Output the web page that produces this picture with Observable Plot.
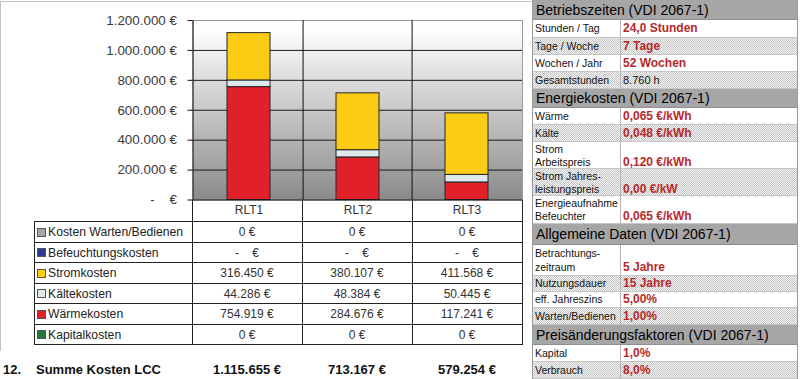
<!DOCTYPE html>
<html><head><meta charset="utf-8">
<script src="https://cdn.jsdelivr.net/npm/d3@7"></script>
<script src="https://cdn.jsdelivr.net/npm/@observablehq/plot@0.6"></script>
<style>
html,body{margin:0;padding:0;background:#fff;}
body{width:800px;height:379px;position:relative;overflow:hidden;font-family:"Liberation Sans",Arial,sans-serif;}
.abs{position:absolute;box-sizing:border-box;}
.dot{background:repeating-conic-gradient(#c4c4c4 0 25%, #f7f7f7 0 50%) 0 0/2px 2px;}
</style></head><body>
<div class="abs" style="left:0;top:1px;width:532px;height:350px;border-top:1px solid #c4c4c4;border-left:1px solid #c4c4c4;"></div>
<div id="chart" class="abs" style="left:0;top:0"></div>
<div id="table" class="abs" style="left:0;top:0;width:532px;height:379px"></div>
<div id="panel" class="abs" style="left:532px;top:0;width:266px;height:379px;border-left:1px solid #9a9a9a;border-right:1px solid #9a9a9a;"></div>
<script>
// ---------- data ----------
const categories = ["RLT1", "RLT2", "RLT3"];
const costTypes = ["Kosten Warten/Bedienen", "Befeuchtungskosten", "Stromkosten", "Kältekosten", "Wärmekosten", "Kapitalkosten"];
const wartenKosten = [0, 0, 0];
const befeuchtungsKosten = [0, 0, 0];
const stromKosten = [316450, 380107, 411568];
const kaelteKosten = [44286, 48384, 50445];
const waermeKosten = [754919, 284676, 117241];
const kapitalKosten = [0, 0, 0];
const yTicks = [0, 200000, 400000, 600000, 800000, 1000000, 1200000];
const accountingRows = ["Befeuchtungskosten"];
const summeLabel = "Summe Kosten LCC";
const summeNr = "12.";

const betriebTitle = "Betriebszeiten (VDI 2067-1)";
const betriebLabels = ["Stunden / Tag", "Tage / Woche", "Wochen / Jahr", "Gesamtstunden"];
const betriebValues = ["24,0 Stunden", "7 Tage", "52 Wochen", "8.760 h"];
const energieTitle = "Energiekosten (VDI 2067-1)";
const energieLabels = ["Wärme", "Kälte", "Strom\nArbeitspreis", "Strom Jahres-\nleistungspreis", "Energieaufnahme\nBefeuchter"];
const energieValues = ["0,065 €/kWh", "0,048 €/kWh", "0,120 €/kWh", "0,00 €/kW", "0,065 €/kWh"];
const allgTitle = "Allgemeine Daten (VDI 2067-1)";
const allgLabels = ["Betrachtungs-\nzeitraum", "Nutzungsdauer", "eff. Jahreszins", "Warten/Bedienen"];
const allgValues = ["5 Jahre", "15 Jahre", "5,00%", "1,00%"];
const preisTitle = "Preisänderungsfaktoren (VDI 2067-1)";
const preisLabels = ["Kapital", "Verbrauch"];
const preisValues = ["1,0%", "8,0%"];
const computedRows = ["Gesamtstunden"];

// ---------- styles ----------
const costColors = ["#a6a6a6", "#2b3c92", "#fccb14", "#dde9eb", "#e2202a", "#1f7a37"];
const valueRed = "#b8292b";

const costValues = [wartenKosten, befeuchtungsKosten, stromKosten, kaelteKosten, waermeKosten, kapitalKosten];
const totals = categories.map((c, j) => d3.sum(costValues, v => v[j]));

const de = d3.formatLocale({decimal: ",", thousands: ".", grouping: [3], currency: ["", " €"]});
const fmt = de.format(",.0f");
const NB = "\u00a0";
const euro = v => fmt(v) + NB + "€";
const dashEuro = "-" + NB + NB + NB + NB + "€";

// stacked long data, bottom to top
const stackData = [];
for (let k = costTypes.length - 1; k >= 0; k--) {
  categories.forEach((c, j) => stackData.push({rlt: c, cost: costTypes[k], value: costValues[k][j]}));
}

// ---------- chart ----------
const W = 530, H = 222, mL = 192.5, mR = 8, mT = 20, mB = 22.5;
const step = (W - mL - mR) / categories.length;
const chart = Plot.plot({
  width: W, height: H,
  marginLeft: mL, marginRight: mR, marginTop: mT, marginBottom: mB,
  style: {fontFamily: "Liberation Sans, Arial, sans-serif", fontSize: "13.4px", color: "#3a3a3a", background: "transparent", overflow: "visible"},
  x: {domain: categories, paddingInner: 0.608, paddingOuter: 0.304, axis: null, label: null},
  y: {domain: [0, 1200000], axis: null, label: null},
  color: {domain: costTypes, range: costColors},
  marks: [
    Plot.frame({fill: "url(#bgGrad)", stroke: "#9a9a9a"}),
    Plot.gridY(yTicks.slice(1, -1), {stroke: "#1a1a1a", strokeOpacity: 1}),
    Plot.ruleX(categories.slice(1), {dx: -step / 2, stroke: "#111"}),
    Plot.barY(stackData, {x: "rlt", y: "value", fill: "cost", stroke: "#262626", strokeWidth: 1}),
    Plot.frame({anchor: "left", stroke: "#111"}),
    Plot.ruleY([0], {stroke: "#111"}),
    Plot.axisY({ticks: yTicks, tickSize: 5, tickPadding: 11, stroke: "#111", label: null,
      tickFormat: d => d === 0 ? dashEuro : euro(d), fontSize: 13.4}),
    Plot.axisX({tickSize: 0, tickPadding: 5, fontSize: 12, color: "#333", label: null})
  ]
});
document.getElementById("chart").appendChild(chart);
const svg = d3.select(chart.tagName.toLowerCase() === "svg" ? chart : chart.querySelector("svg"));
const grad = svg.insert("defs", ":first-child").append("linearGradient")
  .attr("id", "bgGrad").attr("x1", 0).attr("y1", 0).attr("x2", 0).attr("y2", 1);
grad.append("stop").attr("offset", "0%").attr("stop-color", "#ffffff");
grad.append("stop").attr("offset", "8%").attr("stop-color", "#fbfbfb");
grad.append("stop").attr("offset", "100%").attr("stop-color", "#8a8a8a");

// ---------- data table below chart ----------
const T = document.getElementById("table");
function box(parent, x, y, w, h, css, html) {
  const d = document.createElement("div");
  d.className = "abs";
  d.style.cssText += `left:${x}px;top:${y}px;width:${w}px;height:${h}px;` + (css || "");
  if (html !== undefined) d.innerHTML = html;
  parent.appendChild(d);
  return d;
}
const colX = [34, 192, 302, 412, 522];
const rowY = [221, 242, 262, 283, 303, 324, 344];
rowY.forEach(y => box(T, colX[0], y, colX[4] - colX[0] + 1, 1, "background:#222"));
box(T, colX[0], rowY[0], 1, rowY[6] - rowY[0] + 1, "background:#222");
colX.slice(1).forEach(x => box(T, x, 200, 1, rowY[6] - 200 + 1, "background:#222"));
costTypes.forEach((name, i) => {
  const y0 = rowY[i], h = rowY[i + 1] - rowY[i];
  box(T, 37, y0 + h / 2 - 4, 9, 9, `background:${costColors[i]};border:1px solid #555;`);
  box(T, 48, y0 + 1, 144, h, `font-size:12.2px;line-height:${h}px;color:#222;white-space:nowrap;`, name);
  categories.forEach((c, j) => {
    const v = costValues[i][j];
    const txt = (v === 0 && accountingRows.includes(name)) ? dashEuro : euro(v);
    box(T, colX[j + 1], y0 + 1, colX[j + 2] - colX[j + 1], h, `font-size:12px;line-height:${h}px;color:#333;text-align:center;white-space:nowrap;`, txt);
  });
});
box(T, 3, 360, 30, 20, "font-size:13px;font-weight:bold;line-height:20px;color:#111;", summeNr);
box(T, 36, 360, 156, 20, "font-size:13px;font-weight:bold;line-height:20px;color:#111;white-space:nowrap;", summeLabel);
totals.forEach((t, j) => box(T, colX[j + 1], 360, colX[j + 2] - colX[j + 1], 20,
  "font-size:13px;font-weight:bold;line-height:20px;color:#111;text-align:center;white-space:nowrap;", euro(t)));

// ---------- right panel ----------
const P = document.getElementById("panel");
const sections = [
  {title: betriebTitle, labels: betriebLabels, values: betriebValues},
  {title: energieTitle, labels: energieLabels, values: energieValues},
  {title: allgTitle, labels: allgLabels, values: allgValues},
  {title: preisTitle, labels: preisLabels, values: preisValues}
];
const headerH = [20, 19, 21, 20];
const rowH = [[18, 17, 17, 17], [17, 17, 27, 27, 28], [31, 16, 16, 17], [17, 17]];
const labelW = 87, panelW = 264;
let y = 0;
sections.forEach((s, si) => {
  box(P, 0, y, panelW, headerH[si], `background:#a6a6a6;font-size:14px;line-height:${headerH[si]}px;padding-left:3px;color:#000;white-space:nowrap;border-bottom:1px solid #8e8e8e;`, s.title);
  y += headerH[si];
  s.labels.forEach((lab, ri) => {
    const h = rowH[si][ri];
    const dotted = ri % 2 === 1;
    const lines = lab.split("\n");
    const lh = lines.length > 1 ? (h > 28 ? 14 : 13) : h - 1;
    const l = box(P, 0, y, labelW + 1, h, `border-right:1px solid #b5b5b5;border-bottom:1px solid #c6c6c6;font-size:10.5px;line-height:${lh}px;padding:${lines.length > 1 ? 1 : 0}px 0 0 2px;color:#111;white-space:nowrap;overflow:hidden;` + (dotted ? "" : "background:#fff;"), lines.join("<br>"));
    if (dotted) l.classList.add("dot");
    const plain = computedRows.includes(lab);
    const vpad = lines.length > 1 ? 1 + lh : 0;
    const v = box(P, labelW + 1, y, panelW - labelW - 1, h, `border-bottom:1px solid #c6c6c6;font-size:12px;line-height:${lh}px;padding:${vpad}px 0 0 2px;white-space:nowrap;` +
      (plain ? "color:#111;font-size:11px;" : `color:${valueRed};font-weight:bold;`) + (dotted ? "" : "background:#fff;"), s.values[ri]);
    if (dotted) v.classList.add("dot");
    y += h;
  });
});
</script>
</body></html>
